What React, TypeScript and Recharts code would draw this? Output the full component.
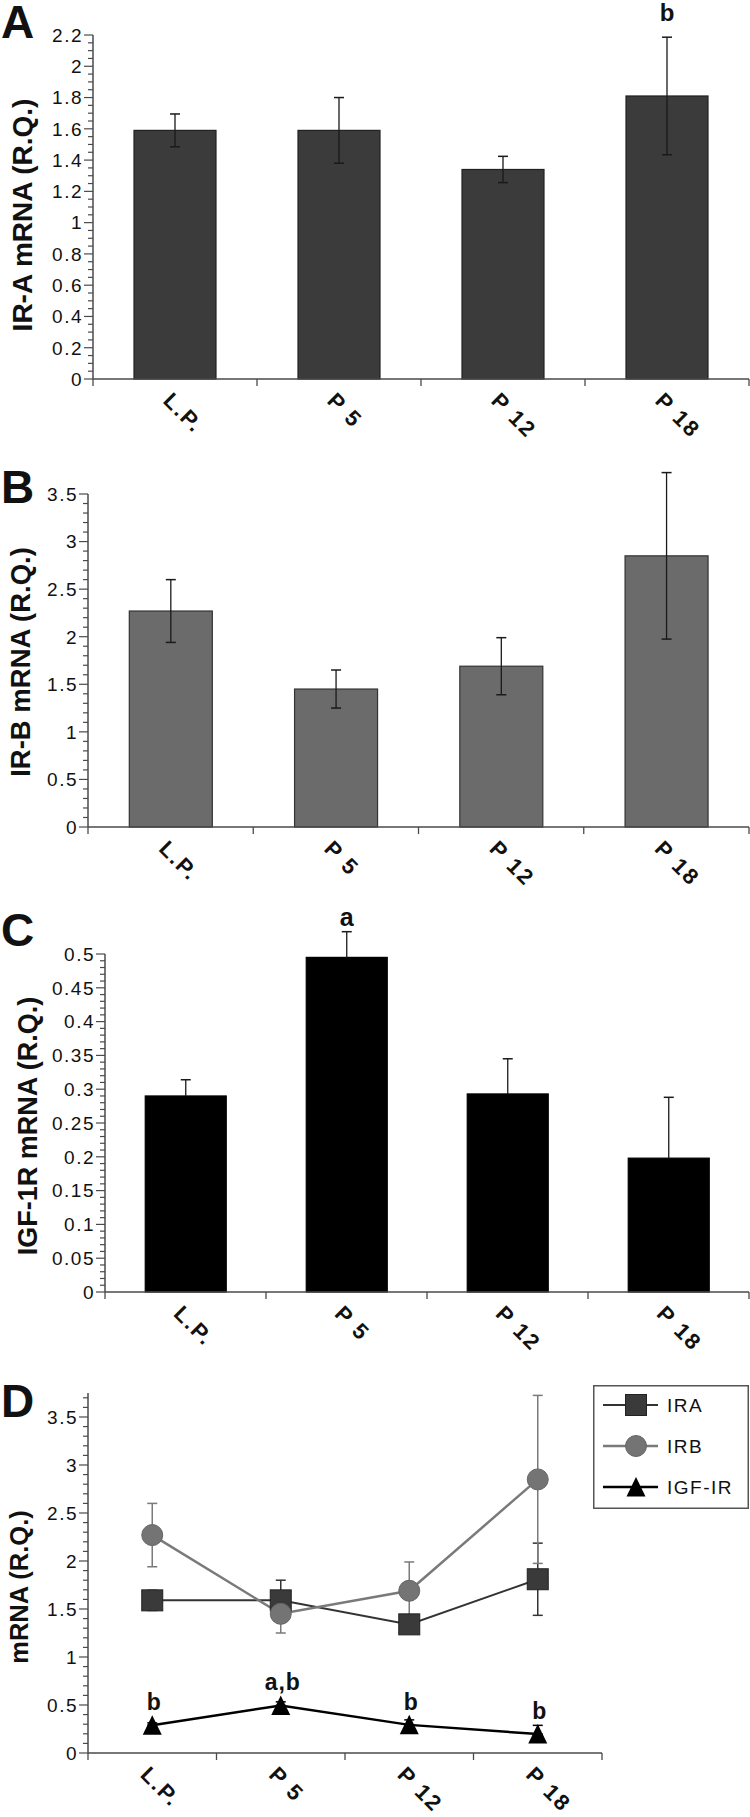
import React from 'react';
import { BarChart, Bar, XAxis, YAxis, ComposedChart, Line, ErrorBar, LabelList, Legend } from 'recharts';

// ---------------- data ----------------
const CATEGORIES = ['L.P.', 'P 5', 'P 12', 'P 18'];
const IRA_MEAN = [1.59, 1.59, 1.34, 1.81];
const IRA_ERR = [0.105, 0.21, 0.084, 0.376];
const IRB_MEAN = [2.27, 1.45, 1.69, 2.85];
const IRB_ERR = [0.33, 0.2, 0.3, 0.875];
const IGF_MEAN = [0.29, 0.495, 0.293, 0.198];
const IGF_ERR = [0.024, 0.038, 0.052, 0.09];
const A_LETTERS = ['', '', '', 'b'];
const B_LETTERS = ['', '', '', ''];
const C_LETTERS = ['', 'a', '', ''];
const D_LETTERS = ['b', 'a,b', 'b', 'b'];

const A_TICKS = [0, 0.2, 0.4, 0.6, 0.8, 1, 1.2, 1.4, 1.6, 1.8, 2, 2.2];
const B_TICKS = [0, 0.5, 1, 1.5, 2, 2.5, 3, 3.5];
const C_TICKS = [0, 0.05, 0.1, 0.15, 0.2, 0.25, 0.3, 0.35, 0.4, 0.45, 0.5];
const D_TICKS = [0, 0.5, 1, 1.5, 2, 2.5, 3, 3.5];
const A_MINOR_STEP = 0.05;
const B_MINOR_STEP = 0.1;
const C_MINOR_STEP = 0.01;
const D_MINOR_STEP = 0.1;
const A_DOMAIN: [number, number] = [0, 2.2];
const B_DOMAIN: [number, number] = [0, 3.5];
const C_DOMAIN: [number, number] = [0, 0.5];
const D_DOMAIN: [number, number] = [0, 3.75];

const SERIES_NAMES = ['IRA', 'IRB', 'IGF-IR'];
const PANEL_LETTERS = ['A', 'B', 'C', 'D'];
const Y_TITLES = ['IR-A mRNA (R.Q.)', 'IR-B mRNA (R.Q.)', 'IGF-1R mRNA (R.Q.)', 'mRNA (R.Q.)'];

const dataA = CATEGORIES.map((cat, i) => ({ cat, mean: IRA_MEAN[i], err: IRA_ERR[i], letter: A_LETTERS[i] }));
const dataB = CATEGORIES.map((cat, i) => ({ cat, mean: IRB_MEAN[i], err: IRB_ERR[i], letter: B_LETTERS[i] }));
const dataC = CATEGORIES.map((cat, i) => ({ cat, mean: IGF_MEAN[i], err: IGF_ERR[i], letter: C_LETTERS[i] }));
const dataD = CATEGORIES.map((cat, i) => ({
  cat,
  ira: IRA_MEAN[i], iraErr: IRA_ERR[i],
  irb: IRB_MEAN[i], irbErr: IRB_ERR[i],
  igf: IGF_MEAN[i], igfErr: [0, IGF_ERR[i]],
  letter: D_LETTERS[i],
}));

// ---------------- styles ----------------
const FONT = '"Liberation Sans", Arial, Helvetica, sans-serif';
const AXIS = '#4a4a4a';
const INK = '#111';
const IRA_COLOR = '#3a3a3a';
const IRB_COLOR = '#747474';
const IGF_COLOR = '#000000';

function ticksFromStep(max: number, step: number) {
  const n = Math.floor(max / step + 1e-6);
  return Array.from({ length: n + 1 }, (_, i) => Number((i * step).toFixed(4)));
}

const fmt = (v: number) => String(Number(v.toFixed(3)));

const renderYTick = (majors: number[]) => (props: any) => {
  const { x, y, payload, index } = props;
  const v = payload.value;
  const major = majors.some((m) => Math.abs(m - v) < 1e-6);
  return (
    <g key={`yt-${index}`}>
      <line x1={x - (major ? 9 : 5)} x2={x} y1={y} y2={y} stroke={AXIS} strokeWidth={1.2} />
      {major && (
        <text x={x - 10} y={y} dy="0.36em" textAnchor="end" fontFamily={FONT} fontSize={19}
          letterSpacing={1.5} fill={INK}>
          {fmt(v)}
        </text>
      )}
    </g>
  );
};

const renderXTick = (props: any) => {
  const { x, y, payload, index, visibleTicksCount } = props;
  const off = payload && typeof payload.offset === 'number' ? payload.offset : 0;
  const isLast = index === visibleTicksCount - 1;
  const tx = x - 13;
  const ty = y + 23;
  return (
    <g key={`xt-${index}`}>
      <line x1={x - off} x2={x - off} y1={y} y2={y + 7} stroke={AXIS} strokeWidth={1.3} />
      {isLast && <line x1={x + off} x2={x + off} y1={y} y2={y + 7} stroke={AXIS} strokeWidth={1.3} />}
      <text x={tx} y={ty} transform={`rotate(45 ${tx} ${ty})`} fontFamily={FONT} fontSize={22}
        fontWeight="bold" letterSpacing={2} fill={INK}>
        {payload.value}
      </text>
    </g>
  );
};

const makeBarShape = (fill: string, stroke: string, upOnly: boolean, letterGap: number, letterSize: number) =>
  (props: any) => {
    const { x, y, width, height, payload, index } = props;
    const ppu = height / payload.mean;
    const cx = x + width / 2;
    const e = payload.err * ppu;
    const yTop = y - e;
    const yBot = upOnly ? y : y + e;
    return (
      <g key={`bar-${index}`}>
        <rect x={x} y={y} width={width} height={height} fill={fill} stroke={stroke} strokeWidth={1.2} />
        <line x1={cx} x2={cx} y1={yTop} y2={yBot} stroke="#1a1a1a" strokeWidth={1.3} />
        <line x1={cx - 5} x2={cx + 5} y1={yTop} y2={yTop} stroke="#1a1a1a" strokeWidth={1.5} />
        {!upOnly && <line x1={cx - 5} x2={cx + 5} y1={yBot} y2={yBot} stroke="#1a1a1a" strokeWidth={1.5} />}
        {payload.letter ? (
          <text x={cx} y={yTop - letterGap} textAnchor="middle" fontFamily={FONT} fontWeight="bold"
            fontSize={letterSize} fill={INK}>
            {payload.letter}
          </text>
        ) : null}
      </g>
    );
  };

type BarPanelProps = {
  top: number; height: number; marginTop: number; yWidth: number; xHeight: number;
  domain: [number, number]; majors: number[]; minorStep: number; data: any[];
  fill: string; stroke: string; upOnly: boolean; letterGap: number; letterSize: number;
};

function BarPanel(p: BarPanelProps) {
  return (
    <div style={{ position: 'absolute', left: 0, top: p.top }}>
      <BarChart width={750} height={p.height} data={p.data}
        margin={{ top: p.marginTop, right: 1, bottom: 0, left: 0 }} barCategoryGap="25%">
        <XAxis dataKey="cat" height={p.xHeight} interval={0} tickLine={false} tickSize={0} tickMargin={0}
          axisLine={{ stroke: AXIS, strokeWidth: 1.5 }} tick={renderXTick} />
        <YAxis type="number" width={p.yWidth} domain={p.domain} ticks={ticksFromStep(p.domain[1], p.minorStep)}
          interval={0} tickLine={false} tickSize={0} tickMargin={0}
          axisLine={{ stroke: AXIS, strokeWidth: 1.5 }} tick={renderYTick(p.majors)} />
        <Bar dataKey="mean" isAnimationActive={false}
          shape={makeBarShape(p.fill, p.stroke, p.upOnly, p.letterGap, p.letterSize)} />
      </BarChart>
    </div>
  );
}

// markers
const drawSquare = (cx: number, cy: number, key?: any) => (
  <rect key={key} x={cx - 10.5} y={cy - 10.5} width={21} height={21} fill={IRA_COLOR} stroke="#222" strokeWidth={1} />
);
const drawCircle = (cx: number, cy: number, key?: any) => (
  <circle key={key} cx={cx} cy={cy} r={10.5} fill={IRB_COLOR} stroke="#666" strokeWidth={1} />
);
const drawTriangle = (cx: number, cy: number, key?: any) => (
  <polygon key={key} points={`${cx},${cy - 10} ${cx - 9.5},${cy + 9.5} ${cx + 9.5},${cy + 9.5}`} fill={IGF_COLOR} />
);

const LegendBox = () => {
  const items = [
    { name: SERIES_NAMES[0], color: '#333', w: 2, m: drawSquare },
    { name: SERIES_NAMES[1], color: '#7a7a7a', w: 2.5, m: drawCircle },
    { name: SERIES_NAMES[2], color: '#000', w: 2.5, m: drawTriangle },
  ];
  return (
    <svg width={156} height={124} style={{ display: 'block' }}>
      <rect x={0.75} y={0.75} width={154.5} height={122.5} fill="#fff" stroke="#555" strokeWidth={1.5} />
      {items.map((it, i) => {
        const cy = 20 + i * 41;
        return (
          <g key={it.name}>
            <line x1={10} x2={65} y1={cy} y2={cy} stroke={it.color} strokeWidth={it.w} />
            {it.m(43, cy)}
            <text x={74} y={cy} dy="0.36em" fontFamily={FONT} fontSize={19} letterSpacing={1.5} fill={INK}>{it.name}</text>
          </g>
        );
      })}
    </svg>
  );
};

function LinePanel() {
  return (
    <div style={{ position: 'absolute', left: 0, top: 1320 }}>
      <ComposedChart width={750} height={497} data={dataD} margin={{ top: 73, right: 148, bottom: 0, left: 0 }}>
        <XAxis dataKey="cat" scale="band" height={64} interval={0} tickLine={false} tickSize={0} tickMargin={0}
          axisLine={{ stroke: AXIS, strokeWidth: 1.5 }} tick={renderXTick} />
        <YAxis type="number" width={88} domain={D_DOMAIN} ticks={ticksFromStep(D_DOMAIN[1], D_MINOR_STEP)}
          interval={0} tickLine={false} tickSize={0} tickMargin={0}
          axisLine={{ stroke: AXIS, strokeWidth: 1.5 }} tick={renderYTick(D_TICKS)} />
        <Legend layout="horizontal" verticalAlign="middle" align="center"
          wrapperStyle={{ position: 'absolute', left: 593, top: 65, width: 156, height: 124 }}
          content={() => <LegendBox />} />
        <Line dataKey="ira" name={SERIES_NAMES[0]} stroke="#333" strokeWidth={2} isAnimationActive={false}
          activeDot={false} dot={(d: any) => drawSquare(d.cx, d.cy, `sq-${d.index}`)}>
          <ErrorBar dataKey="iraErr" width={5} stroke="#333" strokeWidth={1.5} />
        </Line>
        <Line dataKey="irb" name={SERIES_NAMES[1]} stroke="#7a7a7a" strokeWidth={2.5} isAnimationActive={false}
          activeDot={false} dot={(d: any) => drawCircle(d.cx, d.cy, `ci-${d.index}`)}>
          <ErrorBar dataKey="irbErr" width={5} stroke="#7a7a7a" strokeWidth={1.5} />
        </Line>
        <Line dataKey="igf" name={SERIES_NAMES[2]} stroke="#000" strokeWidth={2.5} isAnimationActive={false}
          activeDot={false} dot={(d: any) => drawTriangle(d.cx, d.cy, `tr-${d.index}`)}>
          <ErrorBar dataKey="igfErr" width={5} stroke="#000" strokeWidth={1.5} />
          <LabelList dataKey="letter" content={(lp: any) => {
            const vx = lp.viewBox && typeof lp.viewBox.x === 'number' ? lp.viewBox.x : lp.x;
            const vy = lp.viewBox && typeof lp.viewBox.y === 'number' ? lp.viewBox.y : lp.y;
            return (
              <text key={`lbl-${lp.index}`} x={vx + 2} y={vy - 15} textAnchor="middle" fontFamily={FONT}
                fontWeight="bold" fontSize={23} letterSpacing={1} fill={INK}>
                {lp.value}
              </text>
            );
          }} />
        </Line>
      </ComposedChart>
    </div>
  );
}

const LETTER_POS = [
  { x: 1, y: 38 }, { x: 1, y: 503 }, { x: 1, y: 946 }, { x: 1, y: 1417 },
];
const TITLE_POS = [
  { x: 22, y: 215, size: 28 }, { x: 20, y: 662, size: 27.5 }, { x: 27, y: 1126, size: 27 }, { x: 19, y: 1587, size: 25.5 },
];

export default function App() {
  return (
    <div style={{ position: 'absolute', left: 0, top: 0, width: 750, height: 1817, background: '#fff', overflow: 'hidden' }}>
      <BarPanel top={0} height={454} marginTop={35} yWidth={93} xHeight={75} domain={A_DOMAIN} majors={A_TICKS}
        minorStep={A_MINOR_STEP} data={dataA} fill="#3b3b3b" stroke="#222" upOnly={false} letterGap={16} letterSize={24} />
      <BarPanel top={420} height={482} marginTop={74} yWidth={88} xHeight={75} domain={B_DOMAIN} majors={B_TICKS}
        minorStep={B_MINOR_STEP} data={dataB} fill="#6b6b6b" stroke="#333" upOnly={false} letterGap={16} letterSize={24} />
      <BarPanel top={840} height={527} marginTop={114} yWidth={105} xHeight={75} domain={C_DOMAIN} majors={C_TICKS}
        minorStep={C_MINOR_STEP} data={dataC} fill="#000" stroke="#000" upOnly={true} letterGap={5.5} letterSize={25} />
      <LinePanel />
      <svg width={750} height={1817} style={{ position: 'absolute', left: 0, top: 0, pointerEvents: 'none' }}>
        {PANEL_LETTERS.map((l, i) => (
          <text key={l} x={LETTER_POS[i].x} y={LETTER_POS[i].y} fontFamily={FONT} fontWeight="bold" fontSize={46} fill={INK}>{l}</text>
        ))}
        {Y_TITLES.map((t, i) => (
          <text key={t} x={TITLE_POS[i].x} y={TITLE_POS[i].y} dy="0.36em" textAnchor="middle"
            transform={`rotate(-90 ${TITLE_POS[i].x} ${TITLE_POS[i].y})`} fontFamily={FONT} fontWeight="bold"
            fontSize={TITLE_POS[i].size} fill={INK}>{t}</text>
        ))}
      </svg>
    </div>
  );
}
